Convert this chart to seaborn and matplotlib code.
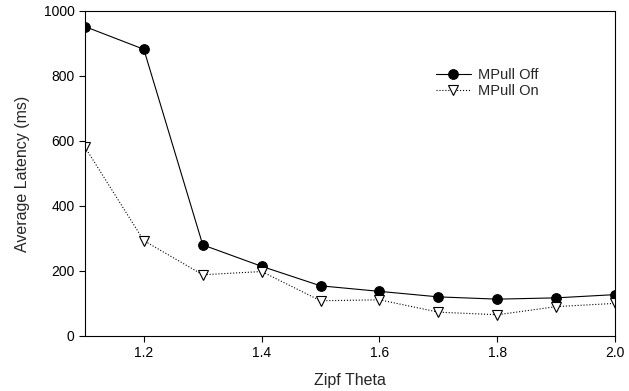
import seaborn as sns
import matplotlib.pyplot as plt
import pandas as pd

# valores
zipf_theta = [1.1, 1.2, 1.3, 1.4, 1.5, 1.6, 1.7, 1.8, 1.9, 2.0]
mpull_off = [952, 882, 280, 214, 154, 137, 120, 113, 117, 127]
mpull_on = [581, 293, 188, 198, 108, 111, 73, 65, 90, 100]

df = pd.DataFrame({"theta": zipf_theta, "off": mpull_off, "on": mpull_on})

sns.set_style("ticks")
plt.rcParams['font.family'] = ['Liberation Sans', 'DejaVu Sans']

fig = plt.figure(figsize=(6.29, 3.91), dpi=100)
ax = fig.add_axes([0.135, 0.141, 0.843, 0.831])

sns.lineplot(data=df, x="theta", y="off", ax=ax, color="black", lw=0.8,
             marker="o", markersize=7, markeredgecolor="black",
             markerfacecolor="black", label="MPull Off")
sns.lineplot(data=df, x="theta", y="on", ax=ax, color="black", lw=0.8,
             linestyle=":", marker="v", markersize=7, markeredgecolor="black",
             markerfacecolor="white", markeredgewidth=0.8, label="MPull On")

ax.set_xlim(1.1, 2.0)
ax.set_ylim(0, 1000)
ax.set_xticks([1.2, 1.4, 1.6, 1.8, 2.0])
ax.set_yticks([0, 200, 400, 600, 800, 1000])
ax.set_xlabel("Zipf Theta", fontsize=11.5, labelpad=9)
ax.set_ylabel("Average Latency (ms)", fontsize=11.5, labelpad=10)
ax.tick_params(labelsize=10, direction="out", length=4, width=0.8, colors="black")
for s in ax.spines.values():
    s.set_linewidth(0.8)
    s.set_color("black")

ax.legend(loc="upper left", bbox_to_anchor=(0.662, 0.825), frameon=False,
          fontsize=10.5, handlelength=2.4, handletextpad=0.5, labelspacing=0.15,
          borderpad=0, borderaxespad=0)

fig.savefig("out.png", dpi=100)
